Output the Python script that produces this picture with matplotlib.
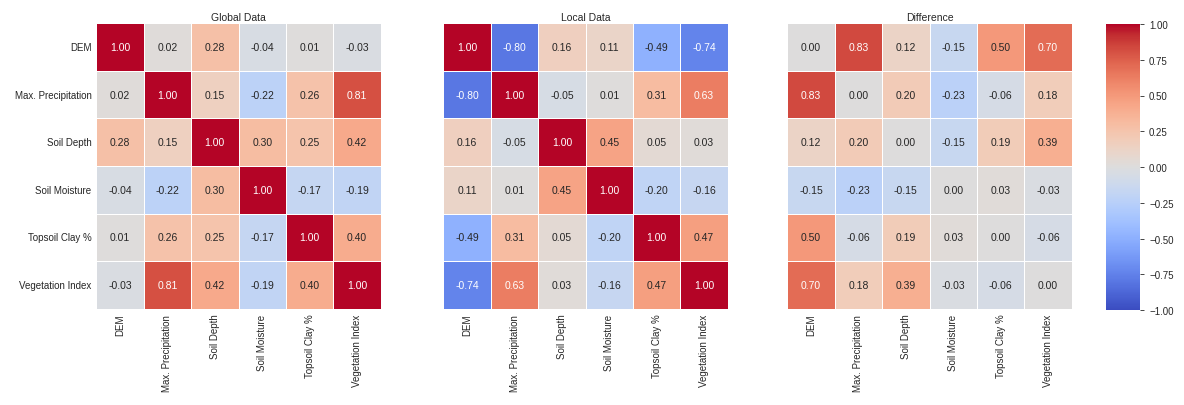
import numpy as np
import pandas as pd
import matplotlib
matplotlib.use("Agg")
import matplotlib.pyplot as plt
import seaborn as sns

sns.set_theme(style="white")
plt.rcParams["font.family"] = ["Liberation Sans", "DejaVu Sans"]

variables = ["DEM", "Max. Precipitation", "Soil Depth", "Soil Moisture",
             "Topsoil Clay %", "Vegetation Index"]

global_corr = [
    [1.00, 0.02, 0.28, -0.04, 0.01, -0.03],
    [0.02, 1.00, 0.15, -0.22, 0.26, 0.81],
    [0.28, 0.15, 1.00, 0.30, 0.25, 0.42],
    [-0.04, -0.22, 0.30, 1.00, -0.17, -0.19],
    [0.01, 0.26, 0.25, -0.17, 1.00, 0.40],
    [-0.03, 0.81, 0.42, -0.19, 0.40, 1.00],
]
local_corr = [
    [1.00, -0.80, 0.16, 0.11, -0.49, -0.74],
    [-0.80, 1.00, -0.05, 0.01, 0.31, 0.63],
    [0.16, -0.05, 1.00, 0.45, 0.05, 0.03],
    [0.11, 0.01, 0.45, 1.00, -0.20, -0.16],
    [-0.49, 0.31, 0.05, -0.20, 1.00, 0.47],
    [-0.74, 0.63, 0.03, -0.16, 0.47, 1.00],
]
diff_corr = [
    [0.00, 0.83, 0.12, -0.15, 0.50, 0.70],
    [0.83, 0.00, 0.20, -0.23, -0.06, 0.18],
    [0.12, 0.20, 0.00, -0.15, 0.19, 0.39],
    [-0.15, -0.23, -0.15, 0.00, 0.03, -0.03],
    [0.50, -0.06, 0.19, 0.03, 0.00, -0.06],
    [0.70, 0.18, 0.39, -0.03, -0.06, 0.00],
]
titles = ["Global Data", "Local Data", "Difference"]

fig = plt.figure(figsize=(11.84, 4.06), dpi=100)
W, H = 1184, 406
lefts = [96.3, 443.4, 787.3]
top, bottom = 24.2, 309.8
axes = [fig.add_axes([l / W, 1 - bottom / H, 284.4 / W, (bottom - top) / H])
        for l in lefts]
cax = fig.add_axes([1106 / W, 1 - 311 / H, 34 / W, 286 / H])

for i, (ax, data, title) in enumerate(zip(axes, [global_corr, local_corr, diff_corr], titles)):
    df = pd.DataFrame(data, index=variables, columns=variables)
    sns.heatmap(df, ax=ax, cmap="coolwarm", vmin=-1, vmax=1, annot=True, fmt=".2f",
                linewidths=0.5, linecolor="white", cbar=(i == 0),
                cbar_ax=cax if i == 0 else None,
                annot_kws={"fontsize": 7.5})
    ax.set_title(title, fontsize=7.5, pad=2)
    ax.tick_params(axis="both", labelsize=7, length=0)
    ax.set_xticklabels(variables, rotation=90)
    if i == 0:
        ax.set_yticklabels(variables, rotation=0)
    else:
        ax.set_yticks([])

cax.tick_params(labelsize=7, length=3, width=0.6, right=True)
cax.set_yticks([-1, -0.75, -0.5, -0.25, 0, 0.25, 0.5, 0.75, 1])
cax.set_yticklabels(["\u22121.00", "\u22120.75", "\u22120.50", "\u22120.25", "0.00",
                     "0.25", "0.50", "0.75", "1.00"])

fig.savefig("out.png", dpi=100)
